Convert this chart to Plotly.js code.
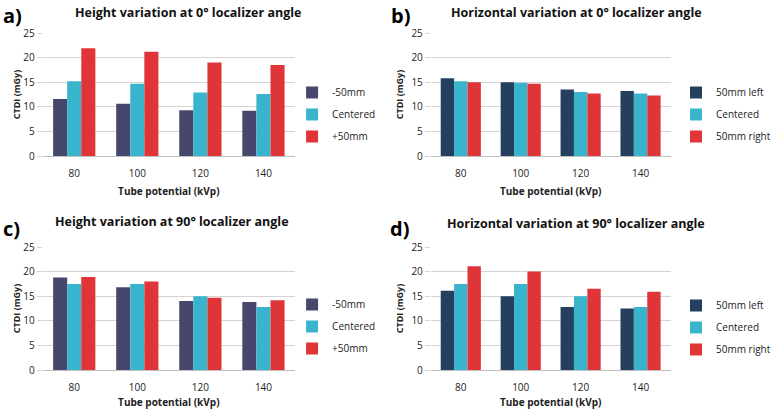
<!DOCTYPE html>
<html><head><meta charset="utf-8">
<script src="https://cdn.plot.ly/plotly-3.0.1.min.js"></script>
<style>html,body{margin:0;padding:0;background:#fff}#chart{width:776px;height:409px}</style>
</head><body><div id="chart"></div>
<script>
const categories = ['80', '100', '120', '140'];

// a) Height variation at 0°
const a_minus50 = [11.6, 10.6, 9.3, 9.2];
const a_centered = [15.2, 14.7, 12.9, 12.6];
const a_plus50 = [21.9, 21.2, 19.0, 18.5];

// b) Horizontal variation at 0°
const b_left = [15.8, 15.0, 13.5, 13.2];
const b_centered = [15.2, 14.9, 13.0, 12.7];
const b_right = [15.0, 14.7, 12.7, 12.3];

// c) Height variation at 90°
const c_minus50 = [18.8, 16.8, 14.0, 13.8];
const c_centered = [17.5, 17.5, 15.0, 12.8];
const c_plus50 = [18.9, 18.0, 14.7, 14.2];

// d) Horizontal variation at 90°
const d_left = [16.1, 15.0, 12.8, 12.5];
const d_centered = [17.5, 17.5, 15.0, 12.8];
const d_right = [21.1, 20.0, 16.5, 15.9];

const heightNames = ['-50mm', 'Centered', '+50mm'];
const horizNames = ['50mm left', 'Centered', '50mm right'];
const titles = [
  'Height variation at 0° localizer angle',
  'Horizontal variation at 0° localizer angle',
  'Height variation at 90° localizer angle',
  'Horizontal variation at 90° localizer angle'
];
const panelLabels = ['a)', 'b)', 'c)', 'd)'];

const navyA = '#46476d', navyB = '#253f5f', cyan = '#38b4cd', red = '#e03538';
const FONT = 'Open Sans, Liberation Sans, sans-serif';

const panels = [
  {series: [a_minus50, a_centered, a_plus50], names: heightNames, c0: navyA, xa: 'x', ya: 'y', lg: 'legend'},
  {series: [b_left, b_centered, b_right], names: horizNames, c0: navyB, xa: 'x2', ya: 'y2', lg: 'legend2'},
  {series: [c_minus50, c_centered, c_plus50], names: heightNames, c0: navyA, xa: 'x3', ya: 'y3', lg: 'legend3'},
  {series: [d_left, d_centered, d_right], names: horizNames, c0: navyB, xa: 'x4', ya: 'y4', lg: 'legend4'}
];

const traces = [];
panels.forEach((p, pi) => {
  const cols = [p.c0, cyan, red];
  p.series.forEach((vals, si) => {
    traces.push({
      type: 'bar', x: categories, y: vals, name: p.names[si],
      marker: {color: cols[si]}, xaxis: p.xa, yaxis: p.ya, legend: p.lg,
      legendgroup: 'p' + pi + 's' + si, hoverinfo: 'skip'
    });
  });
});

const W = 776, H = 409;
const xl = [44 / W, 304 / W], xr = [444 / W, 691 / W];
const yt = [1 - 156 / H, 1 - 33 / H], yb = [1 - 370 / H, 1 - 247 / H];

function xaxis(dom, anchor) {
  return {domain: dom, anchor: anchor, type: 'category', showgrid: false,
    showline: true, linecolor: '#bfbfbf', linewidth: 1, ticks: '', ticklabelstandoff: 8,
    tickfont: {family: FONT, size: 10, color: '#222'},
    title: {text: 'Tube potential (kVp)', font: {family: FONT, size: 10, color: '#222', weight: 'bold'}, standoff: 8},
    fixedrange: true};
}
function yaxis(dom, anchor, standoff) {
  return {domain: dom, anchor: anchor, range: [0, 25], dtick: 5, showgrid: true,
    gridcolor: '#d4d4d4', gridwidth: 1, zeroline: false, showline: false,
    ticks: 'outside', ticklen: 5, tickcolor: '#d4d4d4',
    tickfont: {family: FONT, size: 10, color: '#222'},
    title: {text: 'CTDI (mGy)', font: {family: FONT, size: 9, color: '#222', weight: 'bold'}, standoff: standoff},
    fixedrange: true};
}
function legend(x, ytop) {
  return {x: x, y: ytop, xanchor: 'left', yanchor: 'top', xref: 'paper', yref: 'paper',
    bgcolor: 'rgba(0,0,0,0)', font: {family: FONT, size: 10, color: '#222'},
    traceorder: 'grouped', tracegroupgap: 3, itemwidth: 30, itemclick: false, itemdoubleclick: false};
}

const annotations = [];
const titlePos = [
  {x: 75 / W, y: 1 - 12 / H},
  {x: 463 / W, y: 1 - 12 / H},
  {x: 55 / W, y: 1 - 222 / H},
  {x: 459 / W, y: 1 - 223 / H}
];
titles.forEach((t, i) => {
  annotations.push({text: t, x: titlePos[i].x, y: titlePos[i].y, xref: 'paper', yref: 'paper',
    showarrow: false, xanchor: 'left', yanchor: 'middle',
    font: {family: FONT, size: 12.5, color: '#111', weight: 'bold'}});
});
const labelPos = [
  {x: 1 / W, y: 1 - 15 / H}, {x: 401 / W, y: 1 - 15 / H},
  {x: 1 / W, y: 1 - 228 / H}, {x: 400 / W, y: 1 - 228 / H}
];
panelLabels.forEach((t, i) => {
  annotations.push({text: t, x: labelPos[i].x, y: labelPos[i].y, xref: 'paper', yref: 'paper',
    showarrow: false, xanchor: 'left', yanchor: 'middle',
    font: {family: FONT, size: 20, color: '#000', weight: 'bold'}});
});

const layout = {
  width: W, height: H, margin: {l: 0, r: 0, t: 0, b: 0},
  paper_bgcolor: '#fff', plot_bgcolor: '#fff',
  barmode: 'group', bargap: 0.33, bargroupgap: 0,
  xaxis: xaxis(xl, 'y'), yaxis: yaxis(yt, 'x', 0),
  xaxis2: xaxis(xr, 'y2'), yaxis2: yaxis(yt, 'x2', 6),
  xaxis3: xaxis(xl, 'y3'), yaxis3: yaxis(yb, 'x3', 0),
  xaxis4: xaxis(xr, 'y4'), yaxis4: yaxis(yb, 'x4', 6),
  legend: legend(301 / W, 1 - 78 / H),
  legend2: legend(697 / W, 1 - 78 / H),
  legend3: legend(301 / W, 1 - 290 / H),
  legend4: legend(697 / W, 1 - 291 / H),
  annotations: annotations,
  showlegend: true
};

Plotly.newPlot('chart', traces, layout, {displayModeBar: false, staticPlot: true});
</script>
</body></html>
